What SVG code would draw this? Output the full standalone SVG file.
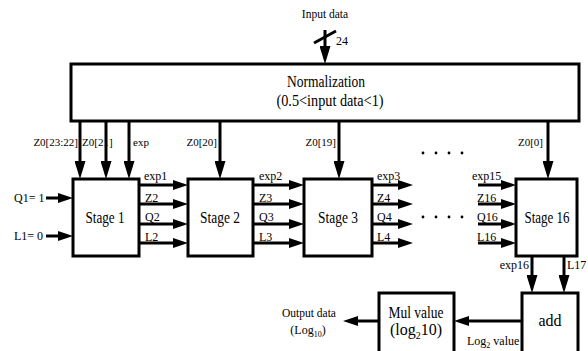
<svg xmlns="http://www.w3.org/2000/svg" width="588" height="351" viewBox="0 0 588 351" font-family="'Liberation Serif', serif">
<style>
text{font-family:'Liberation Serif',serif;fill:#000}
.box{fill:#fff;stroke:#000;stroke-width:3}
.big{font-size:16px}
.sm{font-size:12px}
.c{text-anchor:middle}
.e{text-anchor:end}
.ln{stroke:#000;stroke-width:3;fill:none}
.ah{marker-end:url(#ah)}
.av{marker-end:url(#av)}
</style>
<defs>
<marker id="ah" markerUnits="userSpaceOnUse" markerWidth="15" markerHeight="10" viewBox="0 0 15 10" refX="7" refY="5" orient="auto"><path d="M0,0 L15,5 L0,10 z" fill="#000"/></marker>
<marker id="av" markerUnits="userSpaceOnUse" markerWidth="18" markerHeight="11" viewBox="0 0 18 11" refX="10" refY="5.5" orient="auto"><path d="M0,0 L18,5.5 L0,11 z" fill="#000"/></marker>
</defs>
<rect width="588" height="351" fill="#fff"/>

<g id="input">
<text x="325" y="18" class="c" font-size="11.5">Input data</text>
<text x="336" y="45" class="sm">24</text>
</g>

<g id="normalization">
<rect class="box" x="71" y="64" width="508" height="57"/>
<text x="326" y="87" class="big c" textLength="78" lengthAdjust="spacingAndGlyphs">Normalization</text>
<text x="330" y="106" class="big c" textLength="107" lengthAdjust="spacingAndGlyphs">(0.5&lt;input data&lt;1)</text>
</g>

<g id="stage1">
<rect class="box" x="73" y="179" width="66" height="77"/>
<text x="105" y="223" class="big c" textLength="39" lengthAdjust="spacingAndGlyphs">Stage 1</text>
</g>
<g id="stage2">
<rect class="box" x="188" y="179" width="65" height="77"/>
<text x="220" y="223" class="big c" textLength="40" lengthAdjust="spacingAndGlyphs">Stage 2</text>
</g>
<g id="stage3">
<rect class="box" x="304" y="179" width="68" height="77"/>
<text x="338" y="223" class="big c" textLength="40" lengthAdjust="spacingAndGlyphs">Stage 3</text>
</g>
<g id="stage16">
<rect class="box" x="516" y="179" width="61" height="77"/>
<text x="547" y="223" class="big c" textLength="45" lengthAdjust="spacingAndGlyphs">Stage 16</text>
</g>

<g id="add">
<rect class="box" x="522" y="293" width="56" height="70"/>
<text x="550" y="326" class="big c">add</text>
</g>
<g id="mul">
<rect class="box" x="379" y="293" width="75" height="70"/>
<text x="416" y="318" class="big c" textLength="55" lengthAdjust="spacingAndGlyphs">Mul value</text>
<text x="416" y="335" class="big c">(log<tspan dy="4" font-size="10">2</tspan><tspan dy="-4">10)</tspan></text>
</g>

<g id="output">
<text x="309" y="317" class="c" font-size="11.5">Output data</text>
<text x="308" y="334" class="c" font-size="12">(Log<tspan dy="3" font-size="8">10</tspan><tspan dy="-3">)</tspan></text>
</g>

<g id="dots" fill="#000">
<circle cx="423" cy="153" r="1.4"/><circle cx="436" cy="153" r="1.4"/><circle cx="449" cy="153" r="1.4"/><circle cx="462" cy="153" r="1.4"/>
<circle cx="423" cy="217" r="1.4"/><circle cx="436" cy="217" r="1.4"/><circle cx="449" cy="217" r="1.4"/><circle cx="462" cy="217" r="1.4"/>
</g>

<g id="connectors">
<line class="ln av" x1="325" y1="30" x2="325" y2="56"/>
<line class="ln" x1="314" y1="43" x2="336" y2="31" stroke-width="2.5"/>

<line class="ln av" x1="80" y1="121" x2="80" y2="171"/>
<line class="ln av" x1="106" y1="121" x2="106" y2="171"/>
<line class="ln av" x1="129" y1="121" x2="129" y2="171"/>
<line class="ln av" x1="220" y1="121" x2="220" y2="171"/>
<line class="ln av" x1="339" y1="121" x2="339" y2="171"/>
<line class="ln av" x1="548" y1="121" x2="548" y2="171"/>

<line class="ln ah" x1="46" y1="198" x2="65" y2="198"/>
<line class="ln ah" x1="46" y1="236" x2="65" y2="236"/>

<line class="ln ah" x1="139" y1="185" x2="180" y2="185"/>
<line class="ln ah" x1="139" y1="204" x2="180" y2="204"/>
<line class="ln ah" x1="139" y1="224" x2="180" y2="224"/>
<line class="ln ah" x1="139" y1="243" x2="180" y2="243"/>

<line class="ln ah" x1="253" y1="185" x2="296" y2="185"/>
<line class="ln ah" x1="253" y1="204" x2="296" y2="204"/>
<line class="ln ah" x1="253" y1="224" x2="296" y2="224"/>
<line class="ln ah" x1="253" y1="243" x2="296" y2="243"/>

<line class="ln ah" x1="372" y1="185" x2="405" y2="185"/>
<line class="ln ah" x1="372" y1="204" x2="405" y2="204"/>
<line class="ln ah" x1="372" y1="224" x2="405" y2="224"/>
<line class="ln ah" x1="372" y1="243" x2="405" y2="243"/>

<line class="ln ah" x1="478" y1="185" x2="508" y2="185"/>
<line class="ln ah" x1="478" y1="204" x2="508" y2="204"/>
<line class="ln ah" x1="478" y1="224" x2="508" y2="224"/>
<line class="ln ah" x1="478" y1="243" x2="508" y2="243"/>

<line class="ln av" x1="532" y1="256" x2="532" y2="285"/>
<line class="ln av" x1="564" y1="256" x2="564" y2="285"/>

<line class="ln ah" x1="522" y1="321" x2="462" y2="321"/>
<line class="ln ah" x1="379" y1="321" x2="351" y2="321"/>

<g class="sm">
<text x="78" y="146" class="e" font-size="11">Z0[23:22]</text>
<text x="82" y="146" font-size="11">Z0[21]</text>
<text x="133" y="146" font-size="11">exp</text>
<text x="217" y="146" class="e" font-size="11">Z0[20]</text>
<text x="336" y="146" class="e" font-size="11">Z0[19]</text>
<text x="543" y="146" class="e" font-size="11">Z0[0]</text>

<text x="14" y="202">Q1= 1</text>
<text x="14" y="240">L1= 0</text>

<text x="144" y="180">exp1</text>
<text x="145" y="202">Z2</text>
<text x="145" y="221">Q2</text>
<text x="145" y="241">L2</text>

<text x="259" y="180">exp2</text>
<text x="259" y="202">Z3</text>
<text x="259" y="221">Q3</text>
<text x="259" y="241">L3</text>

<text x="377" y="180">exp3</text>
<text x="377" y="202">Z4</text>
<text x="377" y="221">Q4</text>
<text x="377" y="241">L4</text>

<text x="472" y="180">exp15</text>
<text x="477" y="202">Z16</text>
<text x="477" y="221">Q16</text>
<text x="477" y="241">L16</text>

<text x="529" y="269" class="e">exp16</text>
<text x="567" y="269">L17</text>

<text x="467" y="345">Log<tspan dy="3" font-size="8">2</tspan><tspan dy="-3"> value</tspan></text>
</g>
</g>
</svg>
